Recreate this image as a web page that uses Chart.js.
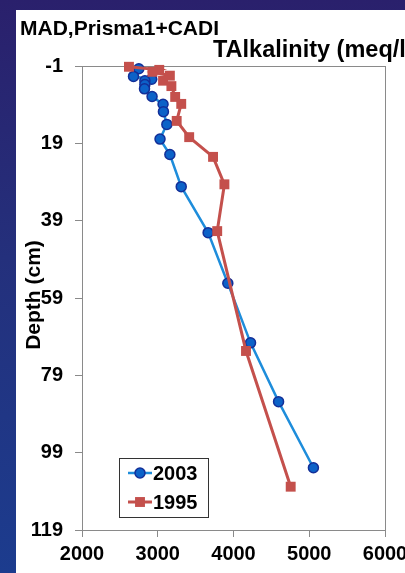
<!DOCTYPE html>
<html>
<head>
<meta charset="utf-8">
<script src="https://cdn.jsdelivr.net/npm/chart.js@4"></script>
<style>
  html, body { margin: 0; padding: 0; }
  body {
    width: 405px; height: 573px; overflow: hidden; position: relative;
    background: linear-gradient(to bottom, #2a206c 0%, #24307c 45%, #1c3c8e 100%);
  }
  #panel { position: absolute; left: 16px; top: 10px; width: 400px; height: 570px; background: #ffffff; }
  #wrap { position: absolute; left: 0; top: 0; width: 405px; height: 573px; }
</style>
</head>
<body>
<div id="panel"></div>
<div id="wrap"><canvas id="chart" width="405" height="573"></canvas></div>
<script>
// Total alkalinity profiles (meq/l) against sediment depth (cm)
const depth2003 = [-0.3, 1.7, 2.4, 2.8, 3.8, 4.9, 6.9, 8.9, 10.8, 14.1, 17.9, 21.9, 30.2, 42.1, 55.2, 70.6, 85.8, 102.9];
const alk2003   = [2750, 2680, 2920, 2830, 2830, 2825, 2925, 3070, 3075, 3120, 3030, 3160, 3310, 3665, 3925, 4225, 4595, 5055];

const depth1995 = [-0.8, 0.0, 0.5, 1.5, 2.8, 4.2, 7.0, 8.8, 13.2, 17.4, 22.5, 29.6, 41.7, 72.7, 107.8];
const alk1995   = [2620, 3020, 2930, 3160, 3070, 3180, 3230, 3310, 3250, 3415, 3730, 3880, 3785, 4165, 4755];

const seriesNames = ['2003', '1995'];
const depthTicks = [-1, 19, 39, 59, 79, 99, 119];
const alkTicks = [2000, 3000, 4000, 5000, 6000];

const chartTitle = 'MAD,Prisma1+CADI';
const xTitle = 'TAlkalinity (meq/l)';
const yTitle = 'Depth (cm)';

const FONT = '"Liberation Sans", Arial, Helvetica, sans-serif';

const toPoints = (xs, ys) => xs.map((x, i) => ({ x: x, y: ys[i] }));

// Plot frame, titles and the in-plot legend
const decorations = {
  id: 'decorations',
  beforeDatasetsDraw(chart) {
    const { ctx, chartArea: a } = chart;
    ctx.save();
    ctx.strokeStyle = '#8a8a8a';
    ctx.lineWidth = 1;
    ctx.strokeRect(Math.round(a.left) + 0.5, Math.round(a.top) + 0.5,
                   Math.round(a.right - a.left), Math.round(a.bottom - a.top));
    ctx.restore();
  },
  afterDraw(chart) {
    const { ctx, chartArea: a } = chart;
    ctx.save();
    ctx.fillStyle = '#000';
    ctx.textBaseline = 'alphabetic';
    ctx.textAlign = 'left';
    ctx.font = 'bold 21px ' + FONT;
    ctx.fillText(chartTitle, 20, 35);
    ctx.font = 'bold 23.5px ' + FONT;
    ctx.fillText(xTitle, 213, 57);

    ctx.translate(34, 295);
    ctx.rotate(-Math.PI / 2);
    ctx.textAlign = 'center';
    ctx.textBaseline = 'middle';
    ctx.font = 'bold 21px ' + FONT;
    ctx.fillText(yTitle, 0, 0);
    ctx.restore();

    // legend box
    const bx = a.left + 37, by = a.top + 392, bw = 89, bh = 59;
    ctx.save();
    ctx.fillStyle = '#fff';
    ctx.fillRect(bx, by, bw, bh);
    ctx.strokeStyle = '#333';
    ctx.lineWidth = 1;
    ctx.strokeRect(bx + 0.5, by + 0.5, bw, bh);
    chart.data.datasets.forEach((ds, i) => {
      const cy = by + 15 + i * 29;
      ctx.strokeStyle = ds.borderColor;
      ctx.lineWidth = ds.borderWidth;
      ctx.beginPath();
      ctx.moveTo(bx + 9, cy);
      ctx.lineTo(bx + 33, cy);
      ctx.stroke();
      ctx.fillStyle = ds.pointBackgroundColor;
      ctx.strokeStyle = ds.pointBorderColor;
      ctx.lineWidth = ds.pointBorderWidth;
      ctx.beginPath();
      if (ds.pointStyle === 'circle') {
        ctx.arc(bx + 21, cy, ds.pointRadius, 0, Math.PI * 2);
      } else {
        const s = ds.pointRadius * Math.SQRT1_2;
        ctx.rect(bx + 21 - s, cy - s, 2 * s, 2 * s);
      }
      ctx.fill();
      if (ds.pointBorderWidth > 0) ctx.stroke();
      ctx.fillStyle = '#000';
      ctx.font = 'bold 20px ' + FONT;
      ctx.textAlign = 'left';
      ctx.textBaseline = 'middle';
      ctx.fillText(ds.label, bx + 34, cy + 1);
    });
    ctx.restore();
  }
};

new Chart(document.getElementById('chart'), {
  type: 'scatter',
  data: {
    datasets: [
      {
        label: seriesNames[0],
        data: toPoints(alk2003, depth2003),
        showLine: true,
        borderColor: '#1e8ddb',
        borderWidth: 2.5,
        pointStyle: 'circle',
        pointRadius: 5,
        pointBackgroundColor: '#0c62c8',
        pointBorderColor: '#132f98',
        pointBorderWidth: 1.5,
        pointHoverRadius: 5,
        clip: false,
        order: 1
      },
      {
        label: seriesNames[1],
        data: toPoints(alk1995, depth1995),
        showLine: true,
        borderColor: '#c4504c',
        borderWidth: 3,
        pointStyle: 'rect',
        pointRadius: 7,
        pointBackgroundColor: '#c4504c',
        pointBorderColor: '#c4504c',
        pointBorderWidth: 0,
        pointHoverRadius: 7,
        clip: false,
        order: 0
      }
    ]
  },
  options: {
    responsive: false,
    animation: false,
    events: [],
    layout: { padding: { left: 0, right: 20, top: 66, bottom: 0 } },
    plugins: { legend: { display: false }, tooltip: { enabled: false }, title: { display: false } },
    scales: {
      x: {
        type: 'linear',
        min: alkTicks[0],
        max: alkTicks[alkTicks.length - 1],
        afterBuildTicks: (s) => { s.ticks = alkTicks.map(v => ({ value: v })); },
        afterFit: (s) => { s.height = 43; s.paddingLeft = 0; s.paddingRight = 0; },
        grid: { display: true, drawOnChartArea: false, drawTicks: true, tickLength: 7, color: '#8a8a8a' },
        border: { display: true, color: '#8a8a8a' },
        ticks: { color: '#000', padding: 5, maxRotation: 0, autoSkip: false,
                 callback: (v) => String(v),
                 font: { family: FONT, size: 20, weight: 'bold' } }
      },
      y: {
        type: 'linear',
        reverse: true,
        min: depthTicks[0],
        max: depthTicks[depthTicks.length - 1],
        afterBuildTicks: (s) => { s.ticks = depthTicks.map(v => ({ value: v })); },
        afterFit: (s) => { s.width = 82; s.paddingTop = 0; s.paddingBottom = 0; },
        grid: { display: true, drawOnChartArea: false, drawTicks: true, tickLength: 7, color: '#8a8a8a' },
        border: { display: true, color: '#8a8a8a' },
        ticks: { color: '#000', padding: 12, autoSkip: false,
                 callback: (v) => String(v),
                 font: { family: FONT, size: 20, weight: 'bold' } }
      }
    }
  },
  plugins: [decorations]
});
</script>
</body>
</html>
